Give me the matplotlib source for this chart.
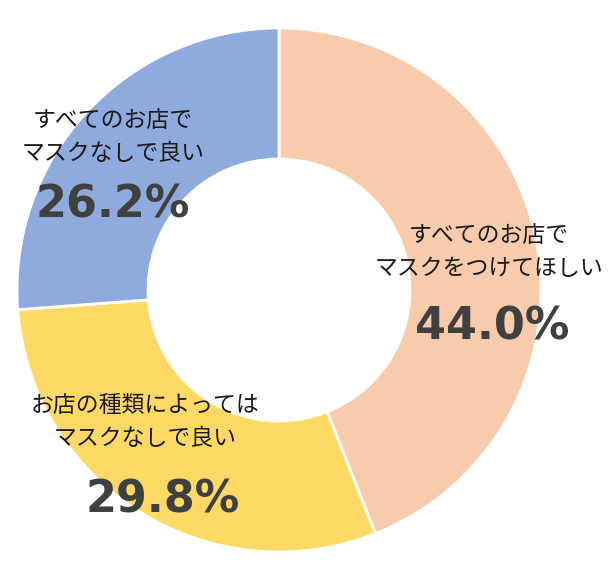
import matplotlib
matplotlib.use("Agg")
import matplotlib.pyplot as plt

plt.rcParams['font.family'] = ['Noto Sans CJK JP', 'DejaVu Sans']

# Survey answers, clockwise from 12 o'clock
labels = ["すべてのお店で\nマスクをつけてほしい",
          "お店の種類によっては\nマスクなしで良い",
          "すべてのお店で\nマスクなしで良い"]
values = [44.0, 29.8, 26.2]
colors = ["#F8CBAD", "#FFD966", "#8FAADC"]

# label anchor points in pixels (text centre, pct centre)
label_px = [(489, 252), (145, 422), (113, 137)]
pct_px = [(492, 327), (163, 500), (113, 205)]

W, H = 610, 570
CX, CY, R = 279, 290, 262


def to_data(px, py):
    return (px - CX) / R, (CY - py) / R


fig = plt.figure(figsize=(W / 100, H / 100), dpi=100)
ax = fig.add_axes([0, 0, 1, 1])
ax.pie(values, colors=colors, startangle=90, counterclock=False,
       radius=1.0, wedgeprops=dict(width=0.5, edgecolor="white", linewidth=2))
ax.set_xlim(-CX / R, (W - CX) / R)
ax.set_ylim(-(H - CY) / R, CY / R)
ax.set_aspect("auto")
ax.axis("off")

for lab, val, lp, pp in zip(labels, values, label_px, pct_px):
    x, y = to_data(*lp)
    ax.text(x, y, lab, ha="center", va="center", fontsize=16.5,
            color="#1a1a1a", linespacing=1.6)
    x, y = to_data(*pp)
    ax.text(x, y, f"{val:.1f}%", ha="center", va="center", fontsize=32,
            fontweight="bold", color="#404040", family="DejaVu Sans")

fig.savefig("out.png", dpi=100)
